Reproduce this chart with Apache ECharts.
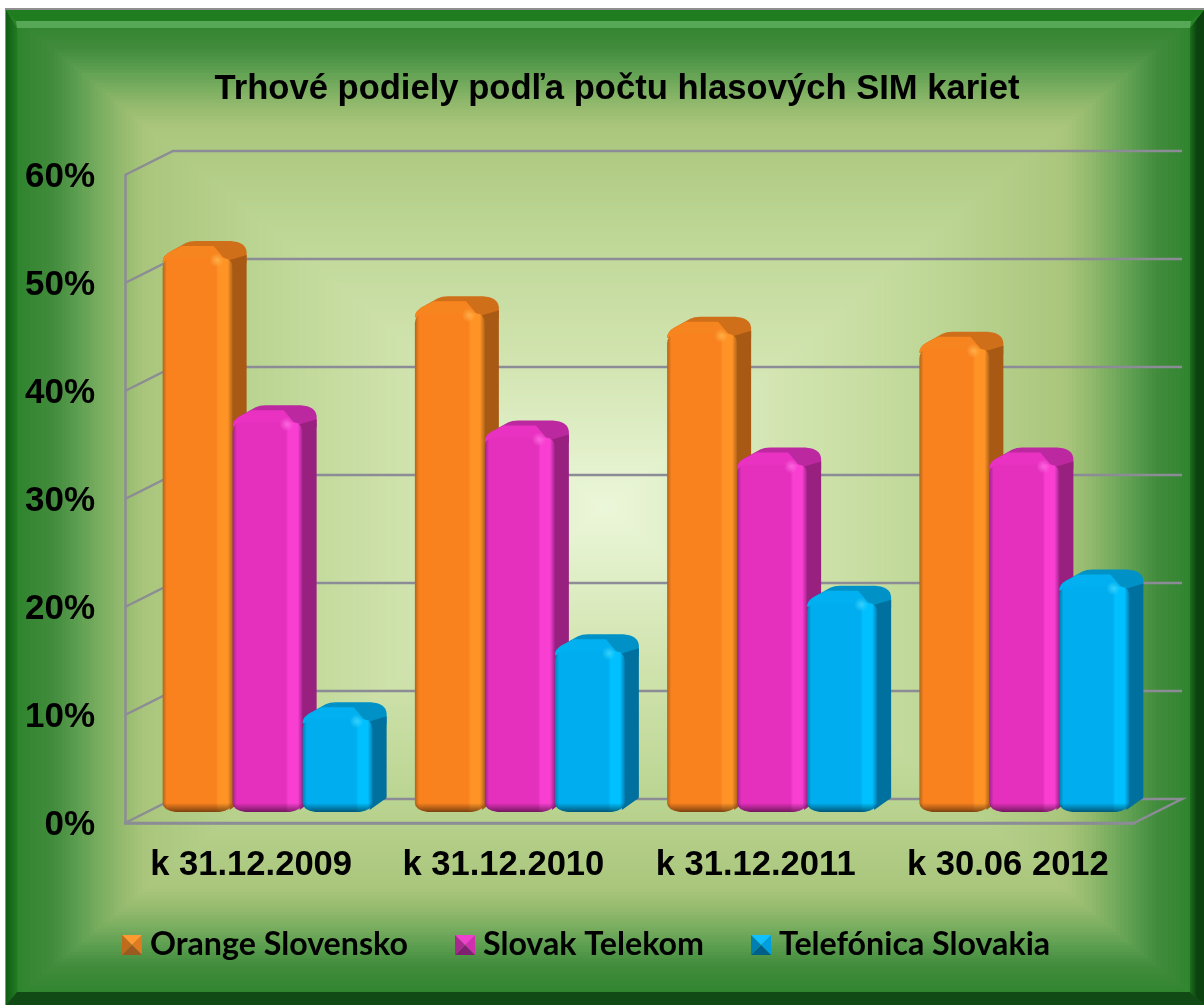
<!DOCTYPE html>
<html><head><meta charset="utf-8">
<style>html,body{margin:0;padding:0;background:#fff}#c{width:1204px;height:1005px}</style>
<script src="https://cdn.jsdelivr.net/npm/echarts@6/dist/echarts.min.js"></script>
</head><body><div id="c"></div>
<script>
const categories = ['k 31.12.2009','k 31.12.2010','k 31.12.2011','k 30.06 2012'];
const orange = [51.1,46.0,44.1,42.7];
const telekom = [35.9,34.5,32.0,32.0];
const telefonica = [8.4,14.7,19.2,20.7];
const yTicks = [0,10,20,30,40,50,60];
const seriesNames = ['Orange Slovensko','Slovak Telekom','Telefónica Slovakia'];

const DX=48, DY=24, BAR_W=70, SIDE=14, LIFT=13, GROUP_SHIFT=16.5;
const palette=[
 {base:'#f9821f',hi:'#ff9326',edge:'#b0651a',side:'#a85a14',back:'#cf6f1a',top:'#f7851f',spot:'#ffb850',ic:['#ff9a30','#e07a20','#9a5a20','#c06a1c']},
 {base:'#e530bd',hi:'#f93fd2',edge:'#a0248c',side:'#98207e',back:'#bb28a0',top:'#e932c2',spot:'#ff70e4',ic:['#f040d0','#d030b0','#802070','#a82890']},
 {base:'#00aeef',hi:'#00c0ff',edge:'#0080b4',side:'#00709e',back:'#0092c6',top:'#00b0f0',spot:'#40d8ff',ic:['#10c0ff','#00a0e0','#005f88','#0080b0']}
];

function makeIcon(p){
  const cv=document.createElement('canvas');cv.width=20;cv.height=20;const g=cv.getContext('2d');
  const tri=(c,a,b)=>{g.fillStyle=c;g.beginPath();g.moveTo(a[0],a[1]);g.lineTo(b[0],b[1]);g.lineTo(10,10);g.closePath();g.fill();};
  tri(p.ic[0],[0,0],[20,0]);tri(p.ic[1],[20,0],[20,20]);tri(p.ic[2],[20,20],[0,20]);tri(p.ic[3],[0,20],[0,0]);
  return 'image://'+cv.toDataURL();
}

function renderBar(idx){
  const p=palette[idx];
  return function(params,api){
    const cat=api.value(0), v=api.value(1);
    const center=api.coord([cat,0])[0], base=api.coord([cat,0])[1];
    const x0=center+GROUP_SHIFT-BAR_W*1.5+idx*BAR_W, x1=x0+BAR_W;
    const yt=api.coord([cat,v])[1]-LIFT, yb=base-LIFT+2, s=SIDE;
    const h=yb-yt;
    const sil=`M${x0},${yt+4} Q${x0},${yt-2} ${x0+7},${yt-6} L${x0+23},${yt-15} Q${x0+27},${yt-17} ${x0+33},${yt-17} L${x1-2},${yt-17} Q${x1+13},${yt-16} ${x1+s},${yt-6} L${x1+s},${yt+5} L${x1},${yt+6} Z`;
    const top=`M${x0},${yt+4} Q${x0},${yt-2} ${x0+7},${yt-6} L${x0+19},${yt-12} L${x1-19},${yt-12} L${x1-7},${yt+2} Z`;
    const side=`M${x1-6},${yt+3} L${x1+s},${yt-3} L${x1+s},${yb-15} Q${x1+s},${yb-13} ${x1+s-3},${yb-12} L${x1-3},${yb-2} Z`;
    const front=`M${x0},${yt+10} Q${x0},${yt+1} ${x0+9},${yt} L${x1-9},${yt} Q${x1},${yt+1} ${x1},${yt+10} L${x1},${yb-9} Q${x1-1},${yb-2} ${x1-13},${yb} L${x0+13},${yb} Q${x0},${yb-2} ${x0},${yb-9} Z`;
    const lg=(a,b,c,d,st)=>({type:'linear',x:a,y:b,x2:c,y2:d,colorStops:st});
    return {type:'group',children:[
      {type:'path',shape:{pathData:sil,layout:'cover',x:x0,y:yt-17,width:BAR_W+s,height:23},style:{fill:p.back}},
      {type:'path',shape:{pathData:side,layout:'cover',x:x1-6,y:yt-3,width:s+6,height:yb-2-yt+3},style:{fill:p.side}},
      {type:'path',shape:{pathData:top,layout:'cover',x:x0,y:yt-12,width:BAR_W-7,height:16},style:{fill:p.top}},
      {type:'path',shape:{pathData:front,layout:'cover',x:x0,y:yt,width:BAR_W,height:h},style:{fill:lg(0,0,1,0,[
        {offset:0,color:p.edge},{offset:.06,color:p.base},{offset:.76,color:p.base},{offset:.8,color:p.hi},{offset:.93,color:p.hi},{offset:1,color:p.edge}])}},
      {type:'path',shape:{pathData:front,layout:'cover',x:x0,y:yt,width:BAR_W,height:h},style:{fill:lg(0,0,0,1,[
        {offset:0,color:'rgba(0,0,0,0)'},{offset:Math.max(0,1-9/h),color:'rgba(0,0,0,0)'},{offset:1,color:'rgba(0,0,0,0.5)'}])}},
      {type:'circle',shape:{cx:x1-16,cy:yt+2,r:7},style:{fill:{type:'radial',x:.5,y:.5,r:.5,colorStops:[{offset:0,color:p.spot+'cc'},{offset:1,color:p.spot+'00'}]}}}
    ]};
  };
}

function renderWalls(params,api){
  const v=api.value(0), cs=params.coordSys;
  const y=api.coord([0,v])[1], l=cs.x, r=cs.x+cs.width;
  const st={stroke:'#8c8c96',lineWidth:2.5,fill:'none'};
  const pts=[[l,y],[l+DX,y-DY],[r+DX,y-DY]];
  if(v===0){pts.push([r,y],[l,y]);}
  return {type:'polyline',shape:{points:pts},style:st};
}

// shaded backdrop: concentric rectangles between the panel edge and its middle
const stops=[[0,[36,130,36]],[.03,[52,134,50]],[.075,[66,140,60]],[.11,[88,156,78]],[.15,[118,172,94]],[.19,[148,186,110]],[.23,[170,198,124]],[.45,[190,215,150]],[.7,[210,228,176]],[1,[236,247,218]]];
function colorAt(t){for(let i=1;i<stops.length;i++){if(t<=stops[i][0]){const a=stops[i-1],b=stops[i],f=(t-a[0])/(b[0]-a[0]);return 'rgb('+a[1].map((c,k)=>Math.round(c+(b[1][k]-c)*f)).join(',')+')';}}return 'rgb(236,247,218)';}
const bg=[];
const L=6,T=10,R=1204,B=1005,W=R-L,H=B-T,N=150;
bg.push({type:'rect',shape:{x:5,y:8,width:1199,height:997},style:{fill:'#8f8f8f'},silent:true,z:-20});
for(let i=0;i<N;i++){const t=i/N,dx=W/2*t,dy=H/2*t;
  bg.push({type:'rect',shape:{x:L+dx,y:T+dy,width:W-2*dx,height:H-2*dy},style:{fill:colorAt(t)},silent:true,z:-19});}
const band=(pts,fill)=>({type:'polygon',shape:{points:pts},style:{fill},silent:true,z:-18});
const iL=17,iT=28,iR=1190,iB=992;
bg.push(
  band([[L,T],[R,T],[iR+1,21],[iL-1,21]],'#1f7c1f'),
  band([[iL-1,21],[iR+1,21],[iR,iT],[iL,iT]],'#56a856'),
  band([[L,T],[iL,iT],[iL,iB],[L,B]],{type:'linear',x:0,y:0,x2:1,y2:0,colorStops:[{offset:0,color:'#0f5d14'},{offset:1,color:'#227a22'}]}),
  band([[R,T],[iR,iT],[iR,iB],[R,B]],{type:'linear',x:0,y:0,x2:1,y2:0,colorStops:[{offset:0,color:'#1c6e1c'},{offset:.5,color:'#0c420f'},{offset:1,color:'#0c420f'}]}),
  band([[L,B],[iL,iB],[iR,iB],[R,B]],'#124a16')
);

const chart=echarts.init(document.getElementById('c'),null,{renderer:'canvas'});
const allValues=[orange,telekom,telefonica];
chart.setOption({
  animation:false,
  graphic:{elements:bg},
  title:{text:'Trhové podiely podľa počtu hlasových SIM kariet',left:612,top:67,textAlign:'center',
    textStyle:{fontFamily:'Liberation Sans',fontWeight:'bold',fontSize:34.6,color:'#000'}},
  legend:{data:seriesNames.map((n,i)=>({name:n,icon:makeIcon(palette[i])})),left:117,top:924,itemWidth:20,itemHeight:20,itemGap:47,
    textStyle:{fontFamily:'Lato',fontWeight:'bold',fontSize:32.2,color:'#000',padding:[0,0,0,3]}},
  grid:{left:125,right:70,top:175,bottom:182},
  xAxis:{type:'category',data:categories,axisLine:{lineStyle:{color:'#8c8c96',width:2.5}},axisTick:{show:false},
    axisLabel:{interval:0,hideOverlap:false,margin:25,fontFamily:'Liberation Sans',fontWeight:'bold',fontSize:34.6,color:'#000'}},
  yAxis:{type:'value',min:0,max:60,interval:10,axisLine:{show:true,lineStyle:{color:'#8c8c96',width:2.5}},axisTick:{show:false},splitLine:{show:false},
    axisLabel:{margin:30,formatter:'{value}%',verticalAlign:'top',lineHeight:5,fontFamily:'Liberation Sans',fontWeight:'bold',fontSize:35,color:'#000'}},
  series:[
    {type:'custom',name:'walls',silent:true,renderItem:renderWalls,encode:{y:0},data:yTicks.map(v=>[v]),z:1},
    ...allValues.map((vals,i)=>({type:'custom',name:seriesNames[i],renderItem:renderBar(i),encode:{x:0,y:1},
      data:vals.map((v,k)=>[k,v]),itemStyle:{color:palette[i].base},z:2+i}))
  ]
});
</script></body></html>
